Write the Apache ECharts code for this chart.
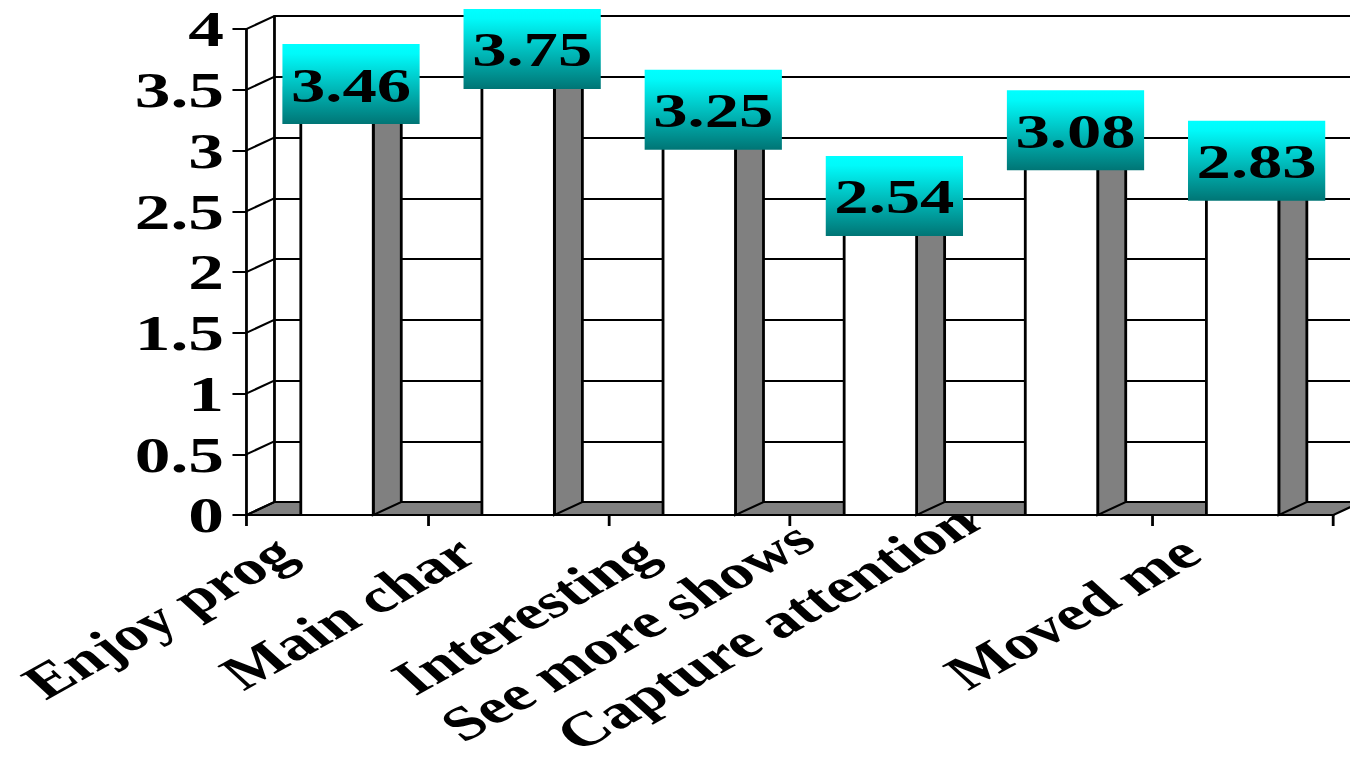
<!DOCTYPE html>
<html>
<head>
<meta charset="utf-8">
<script src="https://cdn.jsdelivr.net/npm/echarts@6/dist/echarts.min.js"></script>
<style>
  html, body { margin: 0; padding: 0; overflow: hidden; background: #fff; width: 1350px; height: 760px; }
  /* the chart is laid out on a narrower canvas and widened horizontally */
  #chart { width: 964px; height: 760px; transform: scaleX(1.4004); transform-origin: 0 0; }
</style>
</head>
<body>
<div id="chart"></div>
<script>
// Survey items and their mean scores
const categories = ['Enjoy prog', 'Main char', 'Interesting', 'See more shows', 'Capture attention', 'Moved me'];
const scores = [3.46, 3.75, 3.25, 2.54, 3.08, 2.83];
const yTicks = [0, 0.5, 1, 1.5, 2, 2.5, 3, 3.5, 4];

// 3D look: depth offset of the back plane
const DX = 20, DY = 13;
const FONT = 'Liberation Serif, Times New Roman, serif';

// per-label padding [top, right, bottom, left] for the slanted category names
const labelPads = [[0, 46, 2, 0], [0, 46, 2, 0], [0, 46, 2, 0], [0, 51, 45, 0], [0, 50, 88, 0], [0, 46, 2, 0]];

const chart = echarts.init(document.getElementById('chart'), null, { renderer: 'svg', width: 964, height: 760 });

const yMin = yTicks[0];
const yMax = yTicks[yTicks.length - 1];
const yStep = yTicks[1] - yTicks[0];

const barData = scores.map((v, i) => [i, v]);

const labelGradient = {
  type: 'linear', x: 0, y: 0, x2: 0, y2: 1,
  colorStops: [
    { offset: 0, color: '#00ffff' },
    { offset: 0.12, color: '#00fafa' },
    { offset: 1, color: '#007575' }
  ]
};

const richLabels = {};
labelPads.forEach((p, i) => {
  richLabels['c' + i] = { fontFamily: FONT, fontWeight: 'bold', fontSize: 48, color: '#000', padding: p };
});

chart.setOption({
  animation: false,
  backgroundColor: '#fff',
  grid: [
    { left: 176, right: 12, top: 29, height: 486, outerBoundsMode: 'none' },
    { left: 176 + DX, top: 29 - DY, width: 776, height: 486, outerBoundsMode: 'none' }
  ],
  xAxis: [
    {
      type: 'category', gridIndex: 0, data: categories,
      axisLine: { lineStyle: { color: '#000', width: 2 } },
      axisTick: { show: true, length: 11, lineStyle: { color: '#000', width: 2 } },
      axisLabel: {
        interval: 0, rotate: 38, margin: 4,
        fontFamily: FONT, fontWeight: 'bold', fontSize: 48, color: '#000',
        formatter: (value, idx) => '{c' + idx + '|' + value + '}',
        rich: richLabels
      },
      splitLine: { show: false }
    },
    {
      type: 'category', gridIndex: 1, data: categories,
      axisLine: { show: false }, axisTick: { show: false }, axisLabel: { show: false },
      splitLine: { show: false }
    }
  ],
  yAxis: [
    {
      type: 'value', gridIndex: 0, min: yMin, max: yMax, interval: yStep,
      axisLine: { show: true, lineStyle: { color: '#000', width: 2 } },
      axisTick: { show: true, length: 10, lineStyle: { color: '#000', width: 2 } },
      axisLabel: { margin: 16, fontFamily: FONT, fontWeight: 'bold', fontSize: 51, color: '#000' },
      splitLine: { show: false }
    },
    {
      type: 'value', gridIndex: 1, min: yMin, max: yMax, interval: yStep,
      axisLine: { show: true, lineStyle: { color: '#000', width: 2 } },
      axisTick: { show: false }, axisLabel: { show: false },
      splitLine: { show: true, lineStyle: { color: '#000', width: 2 } }
    }
  ],
  series: [
    // floor slab
    {
      type: 'custom', xAxisIndex: 0, yAxisIndex: 0, z: 1, silent: true,
      data: [[0, 0]],
      renderItem(params, api) {
        const cs = params.coordSys;
        const y0 = api.coord([0, yMin])[1];
        const xl = cs.x, xr = cs.x + cs.width;
        return {
          type: 'polygon',
          shape: { points: [[xl, y0], [xr, y0], [xr + DX, y0 - DY], [xl + DX, y0 - DY]] },
          style: { fill: '#808080', stroke: '#000', lineWidth: 2 }
        };
      }
    },
    // side wall lines joining the front ticks to the back gridlines
    {
      type: 'custom', xAxisIndex: 0, yAxisIndex: 0, z: 1, silent: true,
      data: yTicks.map(t => [0, t]),
      renderItem(params, api) {
        const cs = params.coordSys;
        const y = api.coord([0, api.value(1)])[1];
        return {
          type: 'line',
          shape: { x1: cs.x, y1: y, x2: cs.x + DX, y2: y - DY },
          style: { stroke: '#000', lineWidth: 2 }
        };
      }
    },
    // 3D columns
    {
      type: 'custom', xAxisIndex: 0, yAxisIndex: 0, z: 3, silent: true,
      data: barData,
      encode: { x: 0, y: 1 },
      renderItem(params, api) {
        const i = api.value(0), v = api.value(1);
        const base = api.coord([i, 0]);
        const top = api.coord([i, v]);
        const bw = api.size([1, 0])[0] * 0.4;
        const x0 = base[0] - bw / 2, x1 = base[0] + bw / 2;
        const yb = base[1], yt = top[1];
        return {
          type: 'group',
          children: [
            {
              type: 'polygon',
              shape: { points: [[x1, yb], [x1, yt], [x1 + DX, yt - DY], [x1 + DX, yb - DY]] },
              style: { fill: '#808080', stroke: '#000', lineWidth: 2 }
            },
            {
              type: 'polygon',
              shape: { points: [[x0, yt], [x1, yt], [x1 + DX, yt - DY], [x0 + DX, yt - DY]] },
              style: { fill: '#c0c0c0', stroke: '#000', lineWidth: 2 }
            },
            {
              type: 'rect',
              shape: { x: x0, y: yt, width: bw, height: yb - yt },
              style: { fill: '#fff', stroke: '#000', lineWidth: 2 }
            }
          ]
        };
      }
    },
    // value boxes on top of each column
    {
      type: 'custom', xAxisIndex: 0, yAxisIndex: 0, z: 5, silent: true,
      data: barData,
      encode: { x: 0, y: 1 },
      renderItem(params, api) {
        const i = api.value(0), v = api.value(1);
        const top = api.coord([i, v]);
        const cx = top[0] + DX / 2, cy = top[1] - 10.5;
        return {
          type: 'group',
          children: [
            {
              type: 'rect',
              shape: { x: cx - 49, y: cy - 40, width: 98, height: 80 },
              style: { fill: labelGradient }
            },
            {
              type: 'text',
              x: cx, y: cy + 1,
              style: {
                text: v.toFixed(2), fill: '#000',
                fontFamily: FONT, fontWeight: 'bold', fontSize: 49,
                align: 'center', verticalAlign: 'middle'
              }
            }
          ]
        };
      }
    }
  ]
});
</script>
</body>
</html>
